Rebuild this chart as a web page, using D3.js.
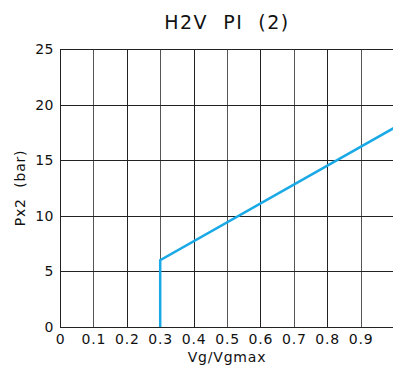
<!DOCTYPE html>
<html>
<head>
<meta charset="utf-8">
<script src="https://cdn.jsdelivr.net/npm/d3@7"></script>
<style>
    body { margin: 0; background: #fff; }
    svg text { font-family: "DejaVu Sans", sans-serif; fill: #111; }
</style>
</head>
<body>
<svg id="chart" width="393" height="367"></svg>
<script>
// Data
const xTicks = [0, 0.1, 0.2, 0.3, 0.4, 0.5, 0.6, 0.7, 0.8, 0.9];
const yTicks = [0, 5, 10, 15, 20, 25];
const curveX = [0.3, 0.3, 1.0];
const curveY = [0, 6, 17.9];

const svg = d3.select('#chart'),
    margin = { top: 49, left: 60, bottom: 40 },
    width = 393,
    height = 367;

const xScale = d3.scaleLinear().domain([0, 1]).range([margin.left, 394]);
const yScale = d3.scaleLinear().domain([0, 25]).range([height - margin.bottom, margin.top]);

// Clip to chart edge
svg.append('defs').append('clipPath').attr('id', 'clip')
    .append('rect')
    .attr('x', margin.left).attr('y', margin.top - 2)
    .attr('width', width - margin.left).attr('height', yScale(0) - margin.top + 4);

// Grid
const grid = svg.append('g').attr('clip-path', 'url(#clip)');
grid.selectAll('.vline').data(xTicks.concat([1])).enter().append('line')
    .attr('x1', (d) => Math.round(xScale(d)) + 0.5)
    .attr('x2', (d) => Math.round(xScale(d)) + 0.5)
    .attr('y1', yScale(25))
    .attr('y2', yScale(0))
    .attr('stroke', (d, i) => i % 2 === 0 ? '#222' : '#555')
    .attr('stroke-width', 1);
grid.selectAll('.hline').data(yTicks).enter().append('line')
    .attr('x1', margin.left)
    .attr('x2', width)
    .attr('y1', (d) => Math.round(yScale(d)) + 0.5)
    .attr('y2', (d) => Math.round(yScale(d)) + 0.5)
    .attr('stroke', '#222')
    .attr('stroke-width', 1);

// Axes labels
const yAxis = d3.axisLeft(yScale).tickValues(yTicks).tickSize(0).tickPadding(6);
svg.append('g')
    .attr('transform', 'translate(' + margin.left + ',0)')
    .call(yAxis)
    .call((g) => g.select('.domain').remove())
    .selectAll('text').style('font-size', '14px').style('letter-spacing', '0.5px');

const xAxis = d3.axisBottom(xScale).tickValues(xTicks).tickSize(0).tickPadding(7)
    .tickFormat((d) => d === 0 ? '0' : d3.format('.1f')(d));
svg.append('g')
    .attr('transform', 'translate(0,' + yScale(0) + ')')
    .call(xAxis)
    .call((g) => g.select('.domain').remove())
    .selectAll('text').style('font-size', '14px').style('letter-spacing', '0.8px');

// Curve
const line = d3.line().x((d) => xScale(d[0])).y((d) => yScale(d[1]));
svg.append('path')
    .attr('clip-path', 'url(#clip)')
    .datum(curveX.map((x, i) => [x, curveY[i]]))
    .attr('d', line)
    .attr('fill', 'none')
    .attr('stroke', '#19a9e6')
    .attr('stroke-width', 2.5);

// Titles
svg.append('text')
    .attr('x', 227).attr('y', 29)
    .attr('text-anchor', 'middle')
    .style('font-size', '19px')
    .style('letter-spacing', '1.5px')
    .style('white-space', 'pre')
    .text('H2V  PI  (2)');

svg.append('text')
    .attr('x', 227).attr('y', 362)
    .attr('text-anchor', 'middle')
    .style('font-size', '14px')
    .style('letter-spacing', '0.8px')
    .text('Vg/Vgmax');

svg.append('text')
    .attr('transform', 'translate(25,' + yScale(12.5) + ') rotate(-90)')
    .attr('text-anchor', 'middle')
    .style('font-size', '14px')
    .style('letter-spacing', '0.8px')
    .style('white-space', 'pre')
    .text('Px2  (bar)');
</script>
</body>
</html>
